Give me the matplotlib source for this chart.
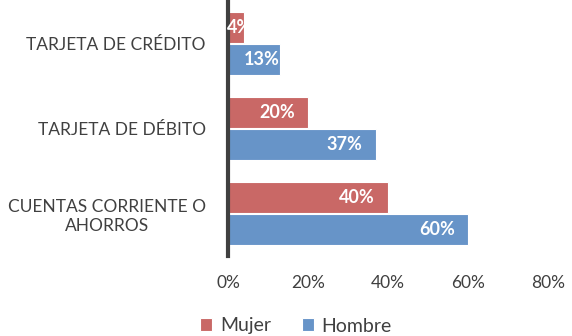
import matplotlib
matplotlib.use("Agg")
import matplotlib.pyplot as plt
import numpy as np

categories = ["CUENTAS CORRIENTE O\nAHORROS", "TARJETA DE DÉBITO", "TARJETA DE CRÉDITO"]
mujer = [40, 20, 4]
hombre = [60, 37, 13]
xticks = [0, 20, 40, 60, 80]

plt.rcParams['font.family'] = ['Lato', 'DejaVu Sans']

fig = plt.figure(figsize=5.72 * np.array([1, 336 / 572]), dpi=100)
ax = fig.add_axes([228 / 572, 1 - 256 / 336, 320 / 572, 255 / 336])

red = '#C96866'
blue = '#6794C8'
h = 0.365
y = np.arange(len(categories))
b1 = ax.barh(y + h / 2 + 0.005, mujer, height=h, color=red, edgecolor='white', linewidth=0.8, label='Mujer')
b2 = ax.barh(y - h / 2 - 0.005, hombre, height=h, color=blue, edgecolor='white', linewidth=0.8, label='Hombre')

for bars, vals in ((b1, mujer), (b2, hombre)):
    for bar, v in zip(bars, vals):
        cy = bar.get_y() + bar.get_height() / 2
        if v < 8:
            ax.annotate(f"{v}%", (0, cy), xytext=(-1, 0), textcoords='offset points',
                        ha='left', va='center', color='white', fontsize=13, fontweight='bold')
        else:
            pad = -9.5 if v >= 15 else -0.5
            ax.annotate(f"{v}%", (v, cy), xytext=(pad, 0), textcoords='offset points',
                        ha='right', va='center', color='white', fontsize=13, fontweight='bold')

ax.set_xlim(0, 80)
ax.set_ylim(-0.5, 2.5)
ax.set_xticks(xticks)
ax.set_xticklabels([f"{t}%" for t in xticks])
ax.set_yticks(y)
ax.set_yticklabels(categories, multialignment='center')
ax.tick_params(axis='x', length=0, pad=14, labelsize=12.5, labelcolor='#404040')
ax.tick_params(axis='y', length=0, pad=16, labelsize=12.5, labelcolor='#404040')
for s in ['top', 'right', 'bottom']:
    ax.spines[s].set_visible(False)
ax.spines['left'].set_color('#404040')
ax.spines['left'].set_linewidth(3)

fig.legend(handles=[b1, b2], labels=['Mujer', 'Hombre'], loc='center', bbox_to_anchor=(296 / 572, 1 - 326 / 336),
           ncol=2, frameon=False, fontsize=14, handlelength=0.6, handleheight=0.6, handletextpad=0.4,
           columnspacing=1.6, labelcolor='#404040')

fig.savefig('out.png', dpi=100)
